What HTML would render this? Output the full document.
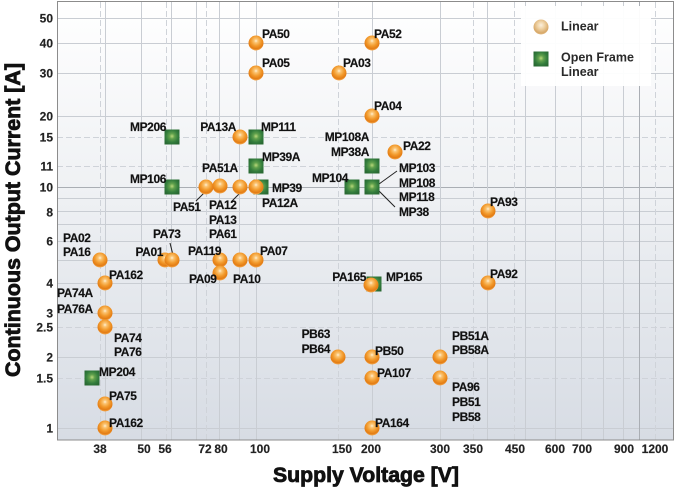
<!DOCTYPE html>
<html><head><meta charset="utf-8">
<style>
html,body{margin:0;padding:0;background:#fff;}
svg{display:block;}
text{font-family:"Liberation Sans",Arial,sans-serif;font-weight:bold;}
.lb{font-size:12px;fill:#111;letter-spacing:-0.4px;stroke:#111;stroke-width:0.15px;}
.tk{font-size:12px;fill:#222;stroke:#222;stroke-width:0.15px;}
.lg{font-size:12.5px;fill:#2a2a2a;}
.ttl{fill:#111;stroke:#111;stroke-width:0.8px;}
</style></head>
<body>
<svg width="676" height="492" viewBox="0 0 676 492" xmlns="http://www.w3.org/2000/svg">
<defs>
<linearGradient id="bg" x1="0" y1="0" x2="0" y2="1">
<stop offset="0" stop-color="#ffffff"/>
<stop offset="0.45" stop-color="#eef0f3"/>
<stop offset="1" stop-color="#d7dce4"/>
</linearGradient>
<radialGradient id="ball" cx="50%" cy="36%" r="62%">
<stop offset="0" stop-color="#fff1d6"/>
<stop offset="0.2" stop-color="#fbc472"/>
<stop offset="0.55" stop-color="#f29a2c"/>
<stop offset="0.85" stop-color="#e37c14"/>
<stop offset="1" stop-color="#f3a448"/>
</radialGradient>
<radialGradient id="ballL" cx="50%" cy="38%" r="62%">
<stop offset="0" stop-color="#fbf0de"/>
<stop offset="0.4" stop-color="#efd2a4"/>
<stop offset="0.85" stop-color="#d7a868"/>
<stop offset="1" stop-color="#e6c08c"/>
</radialGradient>
<radialGradient id="sq" cx="50%" cy="45%" r="60%">
<stop offset="0" stop-color="#b9d87a"/>
<stop offset="0.3" stop-color="#5fa04c"/>
<stop offset="0.7" stop-color="#327c3c"/>
<stop offset="1" stop-color="#2a6a33"/>
</radialGradient>
</defs>

<rect x="57" y="2" width="617" height="438" fill="url(#bg)"/>

<g stroke="#c9cdd3" stroke-width="1" shape-rendering="crispEdges">
<line x1="57" x2="674" y1="428.5" y2="428.5"/>
<line x1="57" x2="674" y1="357.5" y2="357.5"/>
<line x1="57" x2="674" y1="313.5" y2="313.5"/>
<line x1="57" x2="674" y1="283.5" y2="283.5"/>
<line x1="57" x2="674" y1="260.5" y2="260.5"/>
<line x1="57" x2="674" y1="241.5" y2="241.5"/>
<line x1="57" x2="674" y1="224.5" y2="224.5"/>
<line x1="57" x2="674" y1="211.5" y2="211.5"/>
<line x1="57" x2="674" y1="198.5" y2="198.5"/>
<line x1="57" x2="674" y1="116.5" y2="116.5"/>
<line x1="57" x2="674" y1="73.5" y2="73.5"/>
<line x1="57" x2="674" y1="43.5" y2="43.5"/>
<line x1="57" x2="674" y1="18.5" y2="18.5"/>
</g>
<line x1="57" x2="674" y1="187.5" y2="187.5" stroke="#aaaeb4" shape-rendering="crispEdges"/>
<g stroke="#cfd3d9" stroke-width="1" stroke-dasharray="6,3" shape-rendering="crispEdges">
<line x1="57" x2="674" y1="137.5" y2="137.5"/>
<line x1="57" x2="674" y1="166.5" y2="166.5"/>
<line x1="57" x2="674" y1="327.5" y2="327.5"/>
<line x1="57" x2="674" y1="378.5" y2="378.5"/>
</g>
<g stroke="#c9cdd3" stroke-width="1" shape-rendering="crispEdges">
<line y1="2" y2="440" x1="105.5" x2="105.5"/>
<line y1="2" y2="440" x1="141.5" x2="141.5"/>
<line y1="2" y2="440" x1="171.5" x2="171.5"/>
<line y1="2" y2="440" x1="196.5" x2="196.5"/>
<line y1="2" y2="440" x1="219.5" x2="219.5"/>
<line y1="2" y2="440" x1="239.5" x2="239.5"/>
<line y1="2" y2="440" x1="256.5" x2="256.5"/>
<line y1="2" y2="440" x1="372.5" x2="372.5"/>
<line y1="2" y2="440" x1="440.5" x2="440.5"/>
<line y1="2" y2="440" x1="487.5" x2="487.5"/>
<line y1="2" y2="440" x1="525.5" x2="525.5"/>
<line y1="2" y2="440" x1="555.5" x2="555.5"/>
<line y1="2" y2="440" x1="581.5" x2="581.5"/>
<line y1="2" y2="440" x1="603.5" x2="603.5"/>
<line y1="2" y2="440" x1="623.5" x2="623.5"/>
</g>
<line y1="2" y2="440" x1="639.5" x2="639.5" stroke="#aaaeb4" shape-rendering="crispEdges"/>
<g stroke="#cfd3d9" stroke-width="1" stroke-dasharray="6,3" shape-rendering="crispEdges">
<line y1="2" y2="440" x1="100.5" x2="100.5"/>
<line y1="2" y2="440" x1="166.5" x2="166.5"/>
<line y1="2" y2="440" x1="206.5" x2="206.5"/>
<line y1="2" y2="440" x1="338.5" x2="338.5"/>
<line y1="2" y2="440" x1="473.5" x2="473.5"/>
<line y1="2" y2="440" x1="514.5" x2="514.5"/>
<line y1="2" y2="440" x1="655.5" x2="655.5"/>
</g>

<rect x="57.5" y="1.5" width="616" height="438.5" fill="none" stroke="#8c8c8c" stroke-width="1" shape-rendering="crispEdges"/>

<rect x="521" y="6" width="130" height="80" fill="#ffffff" opacity="0.95"/>
<circle cx="541" cy="27" r="7.5" fill="url(#ballL)"/>
<rect x="533.5" y="51.5" width="15" height="15" fill="url(#sq)"/>
<text class="lg" x="561" y="30.5">Linear</text>
<text class="lg" x="561" y="61.5">Open Frame</text>
<text class="lg" x="561" y="76">Linear</text>

<g class="tk" text-anchor="end">
<text x="53" y="22.5">50</text>
<text x="53" y="47.5">40</text>
<text x="53" y="77.5">30</text>
<text x="53" y="120.5">20</text>
<text x="53" y="141.5">15</text>
<text x="53" y="170.5">11</text>
<text x="53" y="191.5">10</text>
<text x="53" y="216.5">8</text>
<text x="53" y="245.5">6</text>
<text x="53" y="287.5">4</text>
<text x="53" y="317.5">3</text>
<text x="53" y="331.5">2.5</text>
<text x="53" y="361.5">2</text>
<text x="53" y="382.5">1.5</text>
<text x="53" y="432.5">1</text>
</g>
<g class="tk" text-anchor="middle">
<text x="100" y="453">38</text>
<text x="144" y="453">50</text>
<text x="165" y="453">56</text>
<text x="205" y="453">72</text>
<text x="221" y="453">80</text>
<text x="260" y="453">100</text>
<text x="342" y="453">150</text>
<text x="371" y="453">200</text>
<text x="440" y="453">300</text>
<text x="473" y="453">350</text>
<text x="515" y="453">450</text>
<text x="555" y="453">600</text>
<text x="582" y="453">700</text>
<text x="624" y="453">900</text>
<text x="655" y="453">1200</text>
</g>

<text class="ttl" x="366" y="482" text-anchor="middle" font-size="21" textLength="186" lengthAdjust="spacingAndGlyphs">Supply Voltage [V]</text>
<text class="ttl" transform="translate(20,220) rotate(-90)" x="0" y="0" text-anchor="middle" font-size="21" textLength="314" lengthAdjust="spacingAndGlyphs">Continuous Output Current [A]</text>

<g stroke="#222" stroke-width="1" fill="none">
<line x1="196" y1="201" x2="205" y2="192"/>
<line x1="231" y1="202" x2="239" y2="194"/>
<line x1="170" y1="243" x2="173" y2="255"/>
<line x1="379" y1="184" x2="397" y2="171"/>
<line x1="379" y1="191" x2="395" y2="207"/>
</g>

<g fill="url(#sq)">
<rect x="164.5" y="129.5" width="15" height="15"/>
<rect x="248.5" y="129.5" width="15" height="15"/>
<rect x="248.5" y="158.5" width="15" height="15"/>
<rect x="253.5" y="179.5" width="15" height="15"/>
<rect x="164.5" y="179.5" width="15" height="15"/>
<rect x="364.5" y="158.5" width="15" height="15"/>
<rect x="344.5" y="179.5" width="15" height="15"/>
<rect x="364.5" y="179.5" width="15" height="15"/>
<rect x="366.5" y="276.5" width="15" height="15"/>
<rect x="84.5" y="370.5" width="15" height="15"/>
</g>

<g fill="url(#ball)">
<circle cx="256" cy="43" r="7.5"/>
<circle cx="256" cy="73" r="7.5"/>
<circle cx="372" cy="43" r="7.5"/>
<circle cx="339" cy="73" r="7.5"/>
<circle cx="372" cy="116" r="7.5"/>
<circle cx="395" cy="152" r="7.5"/>
<circle cx="488" cy="211" r="7.5"/>
<circle cx="240" cy="137" r="7.5"/>
<circle cx="206" cy="187" r="7.5"/>
<circle cx="220" cy="186" r="7.5"/>
<circle cx="240" cy="187" r="7.5"/>
<circle cx="256" cy="187" r="7.5"/>
<circle cx="100" cy="260" r="7.5"/>
<circle cx="165" cy="260" r="7.5"/>
<circle cx="172" cy="260" r="7.5"/>
<circle cx="220" cy="260" r="7.5"/>
<circle cx="220" cy="273" r="7.5"/>
<circle cx="240" cy="260" r="7.5"/>
<circle cx="256" cy="260" r="7.5"/>
<circle cx="105" cy="283" r="7.5"/>
<circle cx="105" cy="313" r="7.5"/>
<circle cx="105" cy="327" r="7.5"/>
<circle cx="105" cy="404" r="7.5"/>
<circle cx="105" cy="428" r="7.5"/>
<circle cx="338" cy="357" r="7.5"/>
<circle cx="371" cy="285" r="7.5"/>
<circle cx="488" cy="283" r="7.5"/>
<circle cx="372" cy="357" r="7.5"/>
<circle cx="372" cy="378" r="7.5"/>
<circle cx="372" cy="428" r="7.5"/>
<circle cx="440" cy="357" r="7.5"/>
<circle cx="440" cy="378" r="7.5"/>
</g>

<g class="lb">
<text x="262" y="38">PA50</text>
<text x="262" y="67">PA05</text>
<text x="374" y="38">PA52</text>
<text x="343" y="67">PA03</text>
<text x="374" y="110">PA04</text>
<text x="403" y="150">PA22</text>
<text x="369" y="141" text-anchor="end">MP108A</text>
<text x="369" y="156" text-anchor="end">MP38A</text>
<text x="348" y="182" text-anchor="end">MP104</text>
<text x="399" y="172">MP103</text>
<text x="399" y="187">MP108</text>
<text x="399" y="201">MP118</text>
<text x="399" y="216">MP38</text>
<text x="490" y="206">PA93</text>
<text x="166" y="131" text-anchor="end">MP206</text>
<text x="236" y="131" text-anchor="end">PA13A</text>
<text x="261" y="131">MP111</text>
<text x="262" y="161">MP39A</text>
<text x="202" y="172">PA51A</text>
<text x="166" y="183" text-anchor="end">MP106</text>
<text x="272" y="192">MP39</text>
<text x="262" y="207">PA12A</text>
<text x="173" y="211">PA51</text>
<text x="209" y="209">PA12</text>
<text x="209" y="224">PA13</text>
<text x="209" y="238">PA61</text>
<text x="153" y="238">PA73</text>
<text x="63" y="242">PA02</text>
<text x="63" y="256">PA16</text>
<text x="163" y="256" text-anchor="end">PA01</text>
<text x="188" y="255">PA119</text>
<text x="260" y="255">PA07</text>
<text x="189" y="283">PA09</text>
<text x="233" y="283">PA10</text>
<text x="109" y="279">PA162</text>
<text x="57" y="297">PA74A</text>
<text x="57" y="313">PA76A</text>
<text x="114" y="342">PA74</text>
<text x="114" y="356">PA76</text>
<text x="99" y="376">MP204</text>
<text x="109" y="400">PA75</text>
<text x="109" y="427">PA162</text>
<text x="330" y="338" text-anchor="end">PB63</text>
<text x="330" y="353" text-anchor="end">PB64</text>
<text x="366" y="281" text-anchor="end">PA165</text>
<text x="386" y="281">MP165</text>
<text x="490" y="278">PA92</text>
<text x="375" y="355">PB50</text>
<text x="377" y="377">PA107</text>
<text x="375" y="427">PA164</text>
<text x="452" y="340">PB51A</text>
<text x="452" y="354">PB58A</text>
<text x="452" y="391">PA96</text>
<text x="452" y="406">PB51</text>
<text x="452" y="421">PB58</text>
</g>
</svg>
</body></html>
